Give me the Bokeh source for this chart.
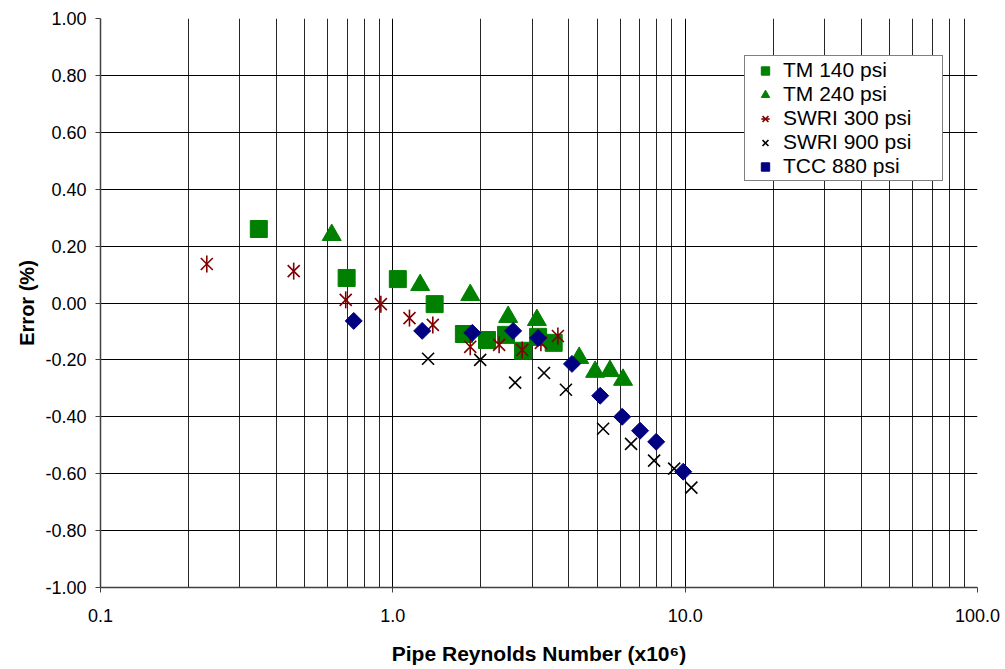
import numpy as np
from bokeh.plotting import figure
from bokeh.models import (Range1d, FixedTicker, PrintfTickFormatter, Legend, LegendItem)
from bokeh.embed import file_html
from bokeh.resources import INLINE

# ---- data (Reynolds number x1e6, error %) ----
tm140_re = [0.348, 0.695, 1.04, 1.39, 1.75, 2.10, 2.44, 2.79, 3.14, 3.55]
tm140_err = [0.26, 0.088, 0.084, -0.004, -0.109, -0.13, -0.112, -0.168, -0.119, -0.14]

tm240_re = [0.618, 1.24, 1.84, 2.48, 3.11, 4.34, 4.92, 5.53, 6.13]
tm240_err = [0.239, 0.063, 0.028, -0.049, -0.06, -0.193, -0.242, -0.239, -0.27]

swri300_re = [0.231, 0.458, 0.690, 0.910, 1.14, 1.37, 1.84, 2.31, 2.77, 3.21, 3.67]
swri300_err = [0.137, 0.112, 0.011, -0.004, -0.053, -0.077, -0.154, -0.147, -0.165, -0.14, -0.116]

swri900_re = [1.32, 1.99, 2.62, 3.29, 3.91, 5.24, 6.53, 7.83, 9.17, 10.5]
swri900_err = [-0.196, -0.2, -0.28, -0.246, -0.305, -0.442, -0.495, -0.554, -0.582, -0.649]

tcc880_re = [0.735, 1.26, 1.87, 2.58, 3.14, 4.10, 5.12, 6.09, 7.01, 7.96, 9.85]
tcc880_err = [-0.063, -0.098, -0.105, -0.098, -0.123, -0.214, -0.326, -0.400, -0.449, -0.488, -0.593]

x_major = [0.1, 1.0, 10.0, 100.0]
x_minor = [m * d for d in [0.1, 1.0, 10.0] for m in range(2, 10)]
y_ticks = [round(-1.0 + 0.2 * i, 1) for i in range(11)]

series_labels = ["TM 140 psi", "TM 240 psi", "SWRI 300 psi", "SWRI 900 psi", "TCC 880 psi"]
x_title = "Pipe Reynolds Number (x10\u2076)"
y_title = "Error (%)"

FONT = "Liberation Sans"

p = figure(width=1003, height=667, x_axis_type="log",
           x_range=Range1d(0.1, 100), y_range=Range1d(-1, 1),
           output_backend="svg", toolbar_location=None,
           min_border_left=100, min_border_right=26, min_border_top=18, min_border_bottom=79)
p.outline_line_color = None
p.background_fill_color = "white"
p.border_fill_color = "white"

# axes
p.xaxis.ticker = FixedTicker(ticks=x_major, minor_ticks=x_minor)
p.xaxis.formatter = PrintfTickFormatter(format="%.1f")
p.yaxis.ticker = FixedTicker(ticks=y_ticks)
p.yaxis.formatter = PrintfTickFormatter(format="%.2f")

for ax in (p.xaxis, p.yaxis):
    ax.axis_line_color = "#404040"
    ax.axis_line_width = 1.5
    ax.major_tick_line_color = "#404040"
    ax.major_tick_in = 0
    ax.major_tick_out = 5
    ax.minor_tick_line_color = None
    ax.major_label_text_font = FONT
    ax.major_label_text_font_size = "18px"
    ax.major_label_text_color = "black"
    ax.axis_label_text_font = FONT
    ax.axis_label_text_font_style = "bold"
    ax.axis_label_text_font_size = "20px"
    ax.axis_label_text_color = "black"

p.xaxis.axis_label = x_title
p.xaxis.axis_label_text_font_size = "21px"
p.yaxis.axis_label = y_title
p.xaxis.major_label_standoff = 16
p.xaxis.axis_label_standoff = 17
p.yaxis.major_label_standoff = 9
p.yaxis.axis_label_standoff = 4

# grid
p.xgrid.grid_line_color = "black"
p.xgrid.grid_line_width = 1
p.xgrid.minor_grid_line_color = "black"
p.xgrid.minor_grid_line_width = 1
p.xgrid.minor_grid_line_alpha = 0.85
p.ygrid.grid_line_color = "black"
p.ygrid.grid_line_width = 1

GREEN = "#008000"
RED = "#800000"
NAVY = "#000080"

r1 = p.scatter(tm140_re, tm140_err, marker="square", size=17,
               fill_color=GREEN, line_color=GREEN)
r2 = p.scatter(tm240_re, tm240_err, marker="triangle", size=19,
               fill_color=GREEN, line_color=GREEN)
r3a = p.scatter(swri300_re, swri300_err, marker="x", size=17,
                line_color=RED, line_width=1.6)
r3b = p.scatter(swri300_re, swri300_err, marker="dash", size=17, angle=np.pi / 2,
                line_color=RED, line_width=1.6)
r4 = p.scatter(swri900_re, swri900_err, marker="x", size=17,
               line_color="black", line_width=1.6)
r5 = p.scatter(tcc880_re, tcc880_err, marker="square", size=12, angle=np.pi / 4,
               fill_color=NAVY, line_color=NAVY)

legend = Legend(items=[
    LegendItem(label=series_labels[0], renderers=[r1]),
    LegendItem(label=series_labels[1], renderers=[r2]),
    LegendItem(label=series_labels[2], renderers=[r3a, r3b]),
    LegendItem(label=series_labels[3], renderers=[r4]),
    LegendItem(label=series_labels[4], renderers=[r5]),
], location=(644, 406))
legend.label_text_font = FONT
legend.label_text_font_size = "21px"
legend.label_text_color = "black"
legend.label_height = 21
legend.label_width = 157
legend.glyph_height = 21
legend.glyph_width = 36
legend.label_standoff = 0
legend.spacing = 0
legend.padding = 2
legend.margin = 0
legend.border_line_color = "black"
legend.border_line_width = 1
legend.background_fill_color = "white"
legend.background_fill_alpha = 1.0
p.add_layout(legend)

open("out.html", "w").write(file_html(p, INLINE))
